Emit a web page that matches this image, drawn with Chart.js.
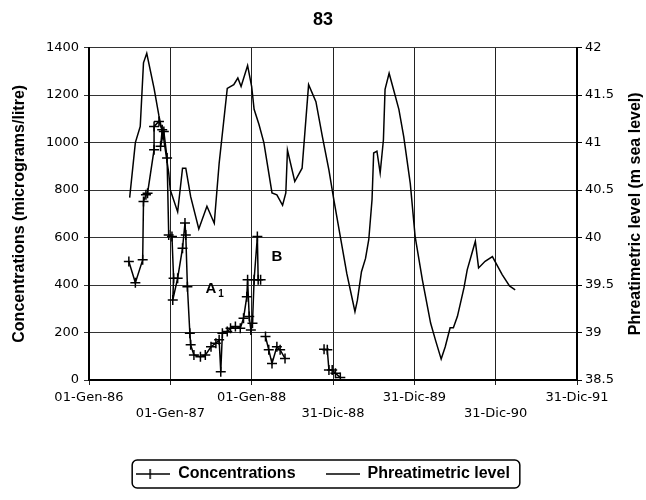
<!DOCTYPE html>
<html>
<head>
<meta charset="utf-8">
<script src="https://cdn.jsdelivr.net/npm/chart.js@4.4.1/dist/chart.umd.min.js"></script>
<style>
  html, body { margin: 0; padding: 0; background: #fff; }
  #wrap { width: 646px; height: 500px; }
</style>
</head>
<body>
<div id="wrap"><canvas id="chart"></canvas></div>
<script>
// x values are decimal years
const X_LABELS = ["01-Gen-86", "01-Gen-87", "01-Gen-88", "31-Dic-88", "31-Dic-89", "31-Dic-90", "31-Dic-91"];

const CONC_YEARS = [1986.49, 1986.57, 1986.66, 1986.67, 1986.70, 1986.72, 1986.80, 1986.80, 1986.86, 1986.90,
    1986.88, 1986.92, 1986.96, 1986.98, 1987.02, 1987.04, 1987.03, 1987.09, 1987.15, 1987.18,
    1987.19, 1987.21, 1987.24, 1987.25, 1987.29, 1987.37, 1987.43, 1987.50, 1987.56, 1987.60,
    1987.62, 1987.64, 1987.70, 1987.74, 1987.80, 1987.86, 1987.90, 1987.94, 1987.95, 1987.97,
    1987.99, 1988.01, 1988.03, 1988.07, 1988.08, 1988.11, 1988.14, 1988.17, 1988.21, 1988.25,
    1988.31, 1988.35, 1988.41, 1988.60, 1988.89, 1988.93, 1988.95, 1988.99, 1989.03, 1989.09];
const CONC = [499, 410, 506, 752, 780, 787, 970, 1068, 1089, 1054,
    984, 1047, 935, 611, 604, 429, 337, 429, 555, 661,
    611, 393, 197, 148, 105, 98, 105, 140, 155, 169,
    35, 197, 204, 218, 225, 218, 260, 351, 422, 267,
    211, 239, 422, 604, 422, 422, null, 183, 127, 70,
    140, 127, 91, null, 129, 127, 42, 42, 28, 11];

const LEVEL_YEARS = [1986.50, 1986.57, 1986.63, 1986.67, 1986.71, 1986.80, 1986.86, 1986.92, 1986.98, 1987.00,
    1987.09, 1987.15, 1987.19, 1987.25, 1987.35, 1987.45, 1987.54, 1987.60, 1987.70, 1987.78,
    1987.83, 1987.87, 1987.95, 1988.00, 1988.03, 1988.09, 1988.15, 1988.25, 1988.31, 1988.38,
    1988.42, 1988.44, 1988.53, 1988.62, 1988.70, 1988.79, 1988.87, 1988.95, 1989.01, 1989.09,
    1989.17, 1989.24, 1989.27, 1989.30, 1989.35, 1989.40, 1989.44, 1989.48, 1989.50, 1989.54,
    1989.58, 1989.62, 1989.64, 1989.69, 1989.75, 1989.81, 1989.87, 1989.95, 1990.01, 1990.10,
    1990.20, 1990.26, 1990.33, 1990.38, 1990.44, 1990.48, 1990.53, 1990.61, 1990.65, 1990.71,
    1990.75, 1990.79, 1990.87, 1990.96, 1991.08, 1991.17, 1991.24];
const LEVEL = [40.42, 41.00, 41.17, 41.84, 41.94, 41.57, 41.28, 41.03, 40.68, 40.50,
    40.27, 40.73, 40.73, 40.43, 40.09, 40.33, 40.15, 40.78, 41.57, 41.61,
    41.68, 41.59, 41.81, 41.59, 41.35, 41.19, 41.00, 40.47, 40.45, 40.34,
    40.47, 40.92, 40.59, 40.73, 41.61, 41.43, 41.06, 40.71, 40.40, 40.01,
    39.62, 39.34, 39.22, 39.34, 39.64, 39.78, 39.98, 40.40, 40.89, 40.91,
    40.68, 41.03, 41.56, 41.73, 41.54, 41.35, 41.06, 40.57, 40.01, 39.55,
    39.10, 38.92, 38.72, 38.85, 39.05, 39.05, 39.17, 39.47, 39.66, 39.84,
    39.96, 39.68, 39.75, 39.80, 39.61, 39.49, 39.45];

// labels written on the plot, in data units
const NOTES = [
    { text: "A", sub: "1", x: 1987.50, y: 384 },
    { text: "B", x: 1988.31, y: 517 }
];

const RIGHT_TITLE = "Phreatimetric level (m sea level)";

const TICK_FONT = { family: "'DejaVu Sans', sans-serif", size: 13 };
const BOLD_FONT = { family: "'Liberation Sans', Arial, sans-serif", size: 16, weight: "bold" };

const toPoints = (xs, ys) => xs.map((x, i) => ({ x, y: ys[i] }));

// small legend icons: line with cross / plain line
function makeIcon(withCross) {
    const c = document.createElement("canvas");
    c.width = 34; c.height = 12;
    const g = c.getContext("2d");
    g.strokeStyle = "#000";
    g.lineWidth = 1.5;
    g.beginPath(); g.moveTo(0, 6); g.lineTo(34, 6); g.stroke();
    if (withCross) {
        g.beginPath(); g.moveTo(14, 1); g.lineTo(14, 11); g.stroke();
    }
    return c;
}
const ICONS = [makeIcon(true), makeIcon(false)];

const notesPlugin = {
    id: "notes",
    afterDatasetsDraw(chart) {
        const { ctx, scales: { x, y } } = chart;
        ctx.save();
        ctx.fillStyle = "#000";
        ctx.textAlign = "center";
        ctx.textBaseline = "middle";
        NOTES.forEach(n => {
            const px = x.getPixelForValue(n.x), py = y.getPixelForValue(n.y);
            ctx.font = "bold 15px 'Liberation Sans', Arial, sans-serif";
            ctx.fillText(n.text, px, py);
            if (n.sub) {
                ctx.font = "bold 10px 'Liberation Sans', Arial, sans-serif";
                ctx.fillText(n.sub, px + 10, py + 5);
            }
        });
        ctx.restore();
    }
};

// right axis title reads bottom-to-top, like the left one
const rightTitlePlugin = {
    id: "rightTitle",
    afterDraw(chart) {
        const s = chart.scales.y2;
        const ctx = chart.ctx;
        ctx.save();
        ctx.translate(s.right - 10, (s.top + s.bottom) / 2);
        ctx.rotate(-Math.PI / 2);
        ctx.font = "bold 16px 'Liberation Sans', Arial, sans-serif";
        ctx.fillStyle = "#000";
        ctx.textAlign = "center";
        ctx.textBaseline = "middle";
        ctx.fillText(RIGHT_TITLE, 0, 0);
        ctx.restore();
    }
};

const legendFramePlugin = {
    id: "legendFrame",
    afterDraw(chart) {
        const hb = chart.legend && chart.legend.legendHitBoxes;
        if (!hb || !hb.length) return;
        const left = Math.min(...hb.map(h => h.left)) - 4;
        const right = Math.max(...hb.map(h => h.left + h.width)) + 10;
        const cy = hb[0].top + hb[0].height / 2;
        const ctx = chart.ctx;
        ctx.save();
        ctx.strokeStyle = "#000";
        ctx.lineWidth = 1.5;
        ctx.beginPath();
        ctx.roundRect(left, cy - 14, right - left, 28, 5);
        ctx.stroke();
        ctx.restore();
    }
};

Chart.defaults.color = "#000";

new Chart(document.getElementById("chart"), {
    type: "scatter",
    data: {
        datasets: [{
            label: "Concentrations",
            data: toPoints(CONC_YEARS, CONC),
            showLine: true,
            spanGaps: false,
            borderColor: "#000",
            borderWidth: 1.5,
            pointStyle: "cross",
            pointRadius: 5,
            pointBorderColor: "#000",
            pointBorderWidth: 1.5,
            yAxisID: "y"
        }, {
            label: "Phreatimetric level",
            data: toPoints(LEVEL_YEARS, LEVEL),
            showLine: true,
            borderColor: "#000",
            borderWidth: 1.5,
            pointRadius: 0,
            yAxisID: "y2"
        }]
    },
    options: {
        responsive: true,
        maintainAspectRatio: false,
        animation: false,
        layout: { padding: { bottom: 8 } },
        scales: {
            x: {
                type: "linear",
                min: 1986, max: 1992,
                ticks: {
                    stepSize: 1, autoSkip: false, maxRotation: 0, padding: 4,
                    font: { ...TICK_FONT, lineHeight: 1.25 },
                    callback: (v, i) => i % 2 === 0 ? [X_LABELS[i], ""] : ["", X_LABELS[i]]
                },
                grid: { color: "#222", lineWidth: 1, tickLength: 5 },
                border: { color: "#000", width: 2 },
                afterFit: s => { s.height = 56; }
            },
            y: {
                position: "left",
                min: 0, max: 1400,
                ticks: { stepSize: 200, padding: 5, font: TICK_FONT, callback: v => String(v) },
                grid: { color: "#333", lineWidth: 1, tickLength: 5 },
                border: { color: "#000", width: 2 },
                title: { display: true, text: "Concentrations (micrograms/litre)", font: BOLD_FONT, padding: { top: 10, bottom: 0 } },
                afterFit: s => { s.width = 89; }
            },
            y2: {
                position: "right",
                min: 38.5, max: 42,
                ticks: { stepSize: 0.5, padding: 3, font: TICK_FONT, callback: v => String(v) },
                grid: { drawOnChartArea: false, tickLength: 5, color: "#000" },
                border: { color: "#000", width: 2 },
                afterFit: s => { s.width = 69; }
            }
        },
        plugins: {
            title: { display: true, text: "83", font: { ...BOLD_FONT, size: 18 }, padding: { top: 9, bottom: 17 } },
            tooltip: { enabled: false },
            legend: {
                position: "bottom",
                labels: {
                    usePointStyle: true,
                    pointStyleWidth: 34,
                    padding: 30,
                    font: BOLD_FONT,
                    color: "#000",
                    generateLabels: chart => Chart.defaults.plugins.legend.labels.generateLabels(chart)
                        .map((item, i) => ({ ...item, pointStyle: ICONS[i] }))
                }
            }
        }
    },
    plugins: [notesPlugin, rightTitlePlugin, legendFramePlugin]
});
</script>
</body>
</html>
